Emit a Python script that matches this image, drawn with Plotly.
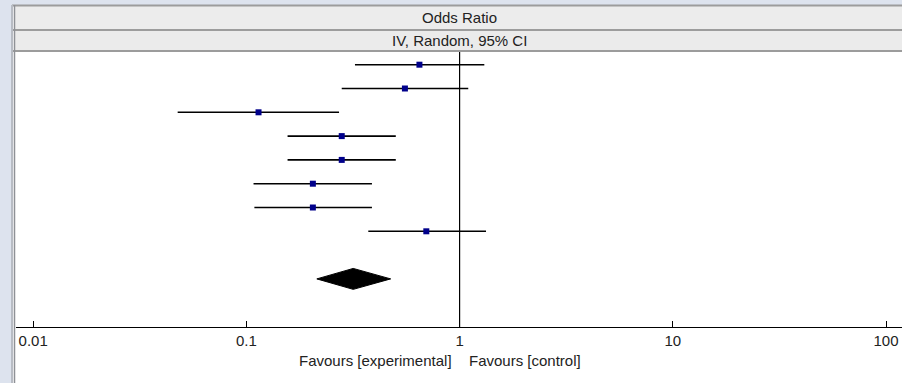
import plotly.graph_objects as go

# ---- data ----
rows = [1, 2, 3, 4, 5, 6, 7, 8]
odds_ratio = [0.648, 0.554, 0.114, 0.280, 0.280, 0.205, 0.205, 0.698]
ci_lower = [0.323, 0.280, 0.0476, 0.156, 0.156, 0.108, 0.109, 0.373]
ci_upper = [1.306, 1.098, 0.272, 0.502, 0.502, 0.388, 0.388, 1.33]

pooled_row = 10
pooled_or = 0.317
pooled_lower = 0.214
pooled_upper = 0.475

tick_vals = [0.01, 0.1, 1, 10, 100]
tick_text = ["0.01", "0.1", "1", "10", "100"]

header_1 = "Odds Ratio"
header_2 = "IV, Random, 95% CI"
favours_left = "Favours [experimental]"
favours_right = "Favours [control]"

# ---- geometry helpers (pixels -> paper) ----
W, H = 902, 383
def py(px):
    return 1 - px / H
def pxx(px):
    return px / W

FONT = "Liberation Sans, Arial, sans-serif"

fig = go.Figure()

# CI lines + point estimates
fig.add_trace(go.Scatter(
    x=odds_ratio, y=rows, mode="markers",
    marker=dict(symbol="square", size=6, color="#00008b"),
    error_x=dict(type="data", symmetric=False,
                 array=[u - o for u, o in zip(ci_upper, odds_ratio)],
                 arrayminus=[o - l for o, l in zip(odds_ratio, ci_lower)],
                 color="black", thickness=1.6, width=0),
    hoverinfo="x+y", showlegend=False,
))

# pooled diamond
dh = 0.44
fig.add_trace(go.Scatter(
    x=[pooled_lower, pooled_or, pooled_upper, pooled_or, pooled_lower],
    y=[pooled_row, pooled_row - dh, pooled_row, pooled_row + dh, pooled_row],
    mode="lines", fill="toself", fillcolor="black",
    line=dict(color="black", width=1), showlegend=False,
))

shapes = []
# white panel
shapes.append(dict(type="rect", xref="paper", yref="paper", x0=pxx(12), x1=1.0,
                   y0=0, y1=py(5), fillcolor="white", line=dict(width=0), layer="below"))
# header rows
shapes.append(dict(type="rect", xref="paper", yref="paper", x0=pxx(15), x1=1.0,
                   y0=py(30), y1=py(6), fillcolor="#ececec", line=dict(width=0), layer="below"))
shapes.append(dict(type="rect", xref="paper", yref="paper", x0=pxx(15), x1=1.0,
                   y0=py(51), y1=py(30), fillcolor="#ebebeb", line=dict(width=0), layer="below"))
for yy in [5.5, 30, 51]:
    shapes.append(dict(type="line", xref="paper", yref="paper", x0=pxx(12), x1=1.0,
                       y0=py(yy), y1=py(yy), line=dict(color="#9c9c9c", width=2), layer="below"))
# left border
shapes.append(dict(type="line", xref="paper", yref="paper", x0=pxx(12), x1=pxx(12),
                   y0=0, y1=py(5), line=dict(color="#b8bcc4", width=2), layer="below"))
shapes.append(dict(type="line", xref="paper", yref="paper", x0=pxx(14.5), x1=pxx(14.5),
                   y0=0, y1=py(5), line=dict(color="#8e9196", width=1.5), layer="below"))
# line of no effect
shapes.append(dict(type="line", xref="x", yref="paper", x0=1, x1=1,
                   y0=py(327), y1=py(52), line=dict(color="black", width=1.2)))

annotations = [
    dict(text=header_1, xref="paper", yref="paper", x=pxx(459), y=py(17.5),
         showarrow=False, font=dict(family=FONT, size=15, color="#222"),
         xanchor="center", yanchor="middle"),
    dict(text=header_2, xref="paper", yref="paper", x=pxx(459), y=py(41),
         showarrow=False, font=dict(family=FONT, size=15, color="#222"),
         xanchor="center", yanchor="middle"),
    dict(text=favours_left, xref="paper", yref="paper", x=pxx(454), y=py(360),
         showarrow=False, font=dict(family=FONT, size=15, color="#222"),
         xanchor="right", yanchor="middle"),
    dict(text=favours_right, xref="paper", yref="paper", x=pxx(467), y=py(360),
         showarrow=False, font=dict(family=FONT, size=15, color="#222"),
         xanchor="left", yanchor="middle"),
]

# axis mapping: px = 459.6 + 213.2*log10(v); plot area starts at px 16
X_LEFT = 16
x0_log = (X_LEFT - 459.6) / 213.2
x1_log = (W - 459.6) / 213.2
# rows: px = 64.7 + 23.8*(v-1)
y_top = 1 - 64.7 / 23.8
y_bot = 1 + (327 - 64.7) / 23.8

fig.update_layout(
    width=W, height=H,
    margin=dict(l=0, r=0, t=0, b=0),
    paper_bgcolor="#dde3ee",
    plot_bgcolor="rgba(0,0,0,0)",
    shapes=shapes, annotations=annotations,
    xaxis=dict(type="log", range=[x0_log, x1_log], domain=[pxx(X_LEFT), 1],
               tickvals=tick_vals, ticktext=tick_text,
               ticks="inside", ticklen=6, tickcolor="black", tickwidth=1,
               showline=True, linecolor="black", linewidth=1.2,
               showgrid=False, zeroline=False,
               tickfont=dict(family=FONT, size=15, color="#222")),
    yaxis=dict(range=[y_bot, y_top], domain=[py(327), 1],
               showticklabels=False, showgrid=False, zeroline=False,
               showline=False, ticks=""),
    showlegend=False,
)

fig.write_html("out.html", config={"displayModeBar": False},
               post_script="document.body.style.margin='0';document.body.style.padding='0';")
